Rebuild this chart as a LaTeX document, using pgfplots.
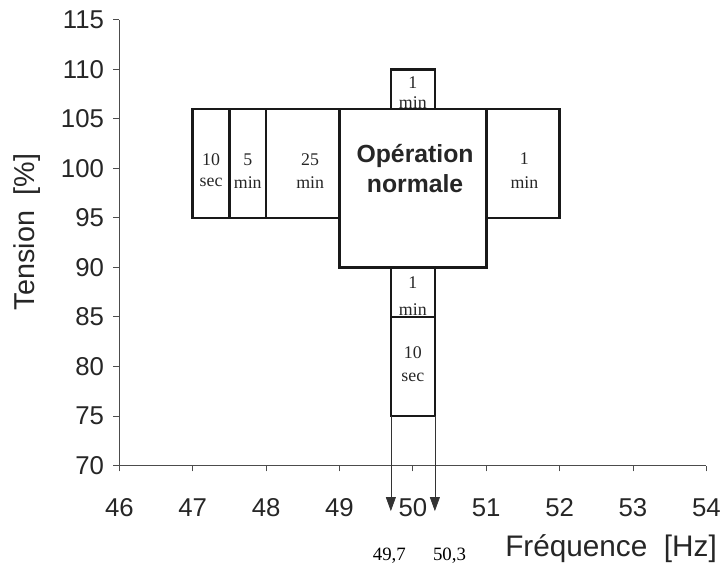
\documentclass[border=0pt]{standalone}
\usepackage{fontspec}
\setmainfont{Liberation Sans}
\newfontfamily\serif{Liberation Serif}
\usepackage{pgfplots}
\pgfplotsset{compat=1.18}
\usetikzlibrary{arrows.meta}

\begin{document}
\begin{tikzpicture}
  \begin{axis}[
    scale only axis,
    width=590bp, height=448bp,
    xmin=46, xmax=54,
    ymin=70, ymax=115,
    xtick={46,...,54},
    ytick={70,75,...,115},
    axis x line=bottom,
    axis y line=left,
    axis line style={-, black!70, line width=0.9bp},
    tick style={black!70, line width=0.9bp},
    tick align=outside,
    major tick length=6bp,
    tick label style={font=\fontsize{26}{28}\selectfont, text=black!85},
    /pgf/number format/assume math mode=true,
    yticklabel style={xshift=-6bp},
    xticklabel style={yshift=-24bp},
    clip=false,
    box/.style={black!90, line width=2.7bp, line join=miter},
  ]
    % zones de fonctionnement (rectangles)
    \addplot[box] coordinates {(47,95) (47.5,95) (47.5,106) (47,106)} -- cycle;
    \addplot[box] coordinates {(47.5,95) (48,95) (48,106) (47.5,106)} -- cycle;
    \addplot[box] coordinates {(48,95) (49,95) (49,106) (48,106)} -- cycle;
    \addplot[box] coordinates {(49,90) (51,90) (51,106) (49,106)} -- cycle;
    \addplot[box] coordinates {(51,95) (52,95) (52,106) (51,106)} -- cycle;
    \addplot[box] coordinates {(49.7,106) (50.3,106) (50.3,110) (49.7,110)} -- cycle;
    \addplot[box] coordinates {(49.7,85) (50.3,85) (50.3,90) (49.7,90)} -- cycle;
    \addplot[box] coordinates {(49.7,75) (50.3,75) (50.3,85) (49.7,85)} -- cycle;

    % fleches 49,7 / 50,3
    \addplot[black!80, line width=0.7bp, -{Triangle[length=14bp, width=10bp]}] coordinates {(49.7,75) (49.7,65.4)};
    \addplot[black!80, line width=0.7bp, -{Triangle[length=14bp, width=10bp]}] coordinates {(50.3,75) (50.3,65.4)};

    \node[font=\serif\fontsize{19}{20}\selectfont] at (axis cs:49.68,60.9) {49,7};
    \node[font=\serif\fontsize{19}{20}\selectfont] at (axis cs:50.5,60.9) {50,3};

    % textes dans les zones
    \begin{scope}[every node/.style={font=\serif\fontsize{18}{19}\selectfont, text=black!85}]
      \node at (axis cs:47.25,100.9) {10};
      \node at (axis cs:47.25,98.6) {sec};
      \node at (axis cs:47.75,100.9) {5};
      \node at (axis cs:47.75,98.6) {min};
      \node at (axis cs:48.6,100.9) {25};
      \node at (axis cs:48.6,98.6) {min};
      \node at (axis cs:51.52,101.0) {1};
      \node at (axis cs:51.52,98.6) {min};
      \node at (axis cs:50.0,108.7) {1};
      \node at (axis cs:50.0,106.6) {min};
      \node at (axis cs:50.0,88.5) {1};
      \node at (axis cs:50.0,85.7) {min};
      \node at (axis cs:50.0,81.4) {10};
      \node at (axis cs:50.0,78.9) {sec};
    \end{scope}
    \node[font=\bfseries\fontsize{25}{27}\selectfont, text=black!85] at (axis cs:50.03,101.3) {Opération};
    \node[font=\bfseries\fontsize{25}{27}\selectfont, text=black!85] at (axis cs:50.03,98.5) {normale};

    % titres des axes
    \node[font=\fontsize{30}{32}\selectfont, text=black!85, anchor=east] at (axis cs:54.19,61.6) {Fréquence\ \ [Hz]};
    \node[font=\fontsize{29}{31}\selectfont, text=black!85, rotate=90] at (axis cs:44.74,93.6) {Tension\ \ [\%]};

    \coordinate (bl) at (axis cs:44.373,59.88);
    \coordinate (tr) at (axis cs:54.19,117.0);
  \end{axis}
  \path (bl) rectangle (tr);
\end{tikzpicture}
\end{document}
